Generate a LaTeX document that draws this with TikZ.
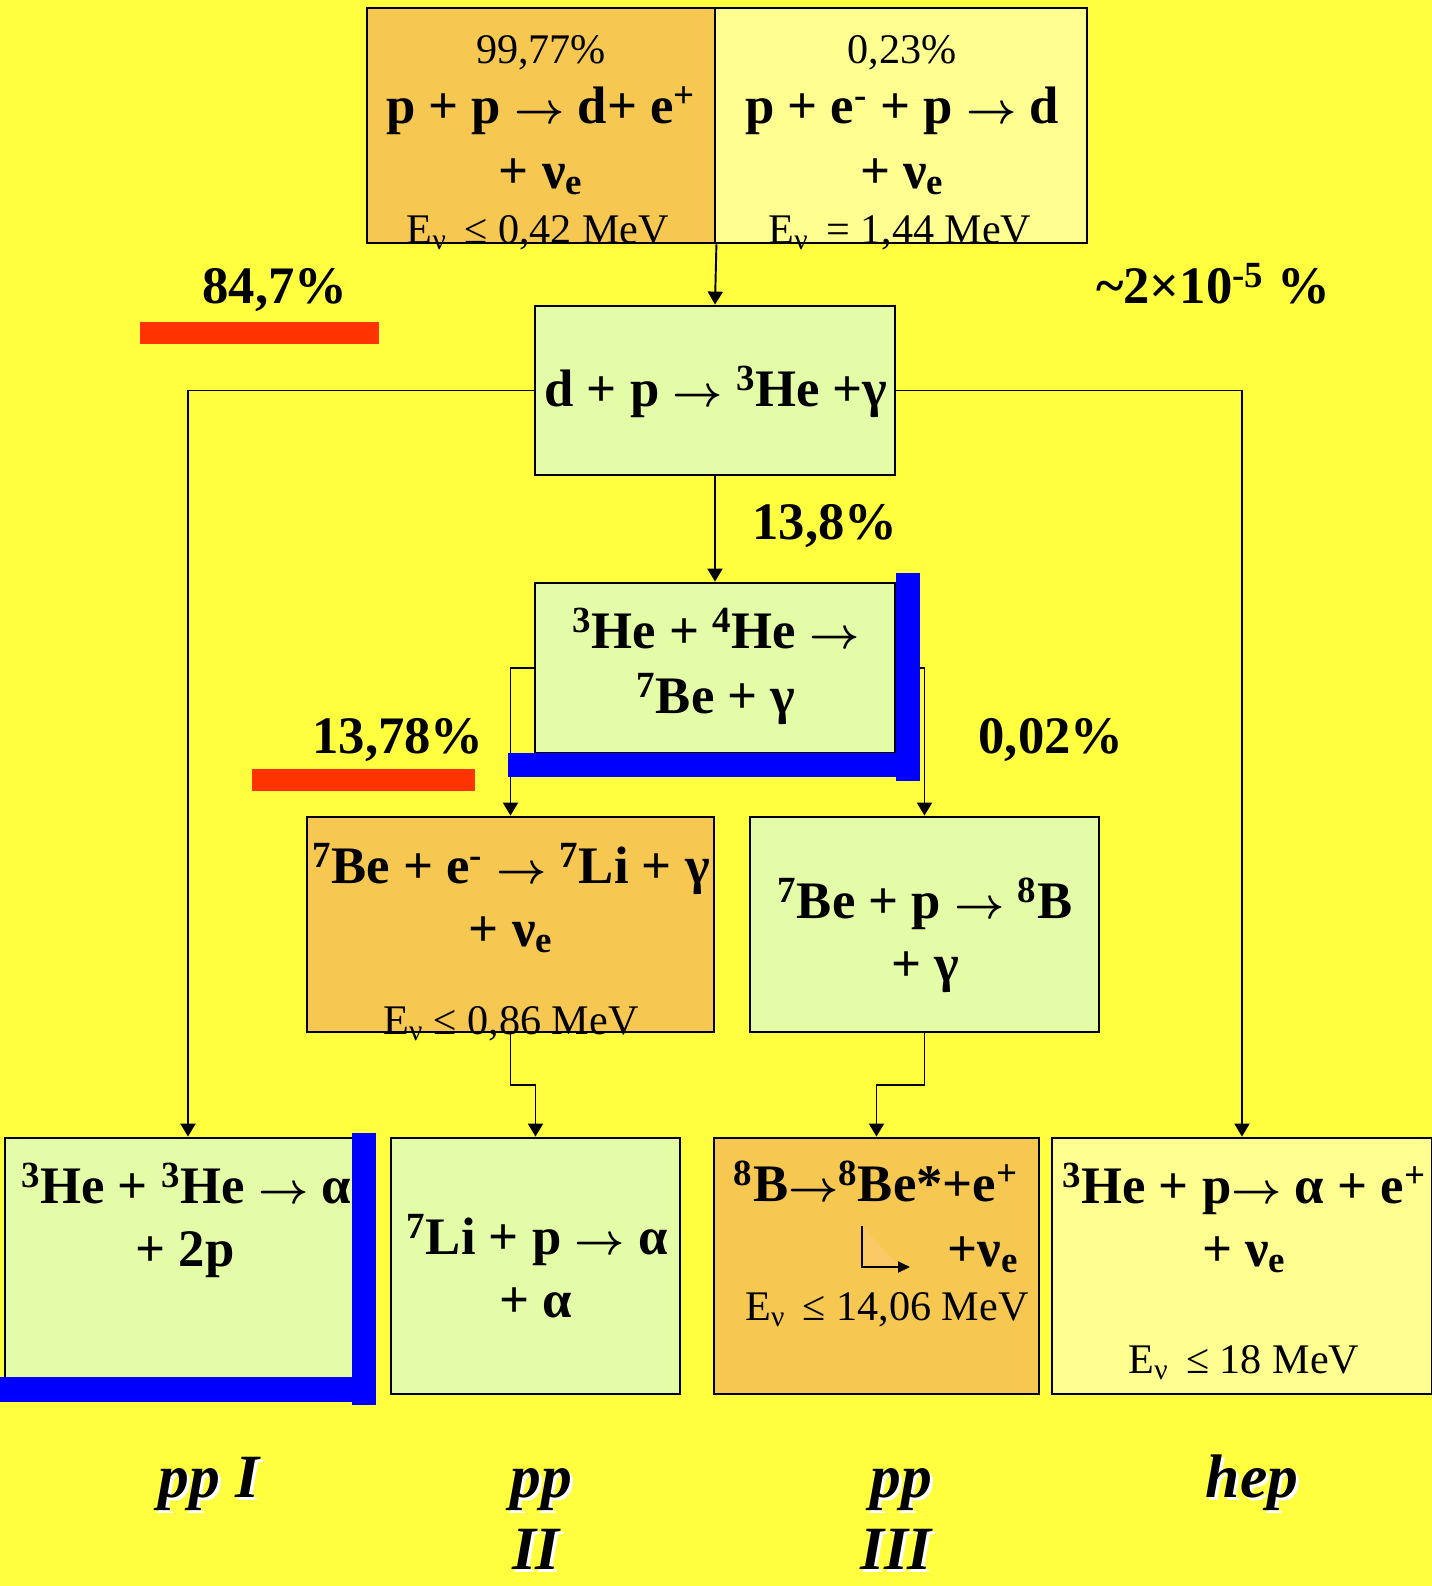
\documentclass[tikz,border=0pt]{standalone}
\usepackage{fontspec}
\setmainfont{Liberation Serif}
\usetikzlibrary{arrows.meta,fit}

\definecolor{bgyellow}{RGB}{255,255,64}
\definecolor{boxorange}{RGB}{246,200,82}
\definecolor{boxcyan}{RGB}{228,252,168}
\definecolor{boxpale}{RGB}{255,255,145}
\definecolor{kinkorange}{RGB}{250,200,100}
\definecolor{barred}{RGB}{255,51,0}
\definecolor{barblue}{RGB}{0,0,255}

\newcommand{\eqsize}{\fontsize{30}{36}\selectfont\bfseries\boldmath}
\newcommand{\ensize}{\fontsize{24}{29}\selectfont}
\newcommand{\cysize}{\fontsize{35}{42}\selectfont\bfseries\itshape}
\newcommand{\yields}{\ensuremath{\rightarrow}}

\begin{document}
\begin{tikzpicture}[x=0.02cm,y=-0.02cm,
    box/.style={draw=black,line width=1.6pt,inner sep=0pt},
    eq/.style={anchor=base,inner sep=0pt,font=\eqsize},
    en/.style={anchor=base,inner sep=0pt,font=\ensize},
    cyc/.style={anchor=base,inner sep=0pt,font=\cysize},
    link/.style={line width=1.1pt,-{Triangle[length=0.26cm,width=0.3cm]}}]

    % background
    \fill[bgyellow] (0,0) rectangle (1432,1586);
    \useasboundingbox (0,0) rectangle (1432,1586);

    % reaction boxes
    \node[box,fill=boxorange,fit={(367,8) (715,243)}] (pp) {};
    \node[box,fill=boxpale,fit={(715,8) (1087,243)}] (pep) {};
    \node[box,fill=boxcyan,fit={(535,306) (895,475)}] (dp) {};
    \node[box,fill=boxcyan,fit={(535,583) (895,753)}] (hhe) {};
    \node[box,fill=boxorange,fit={(307,817) (714,1032)}] (bee) {};
    \node[box,fill=boxcyan,fit={(750,817) (1099,1032)}] (bep) {};
    \node[box,fill=boxcyan,fit={(5,1138) (371,1394)}] (ppI) {};
    \node[box,fill=boxcyan,fit={(391,1138) (680,1394)}] (ppII) {};
    \node[box,fill=boxorange,fit={(714,1138) (1039,1394)}] (ppIII) {};
    \node[box,fill=boxpale,fit={(1052,1138) (1432,1394)}] (hep) {};

    % branches
    \draw[link] (pp.south east) -- (dp.north);
    \draw[link] (dp.west) -| (ppI.north);
    \draw[link] (dp.east) -| (hep.north);
    \draw[link] (dp.south) -- (hhe.north);
    \draw[link] (hhe.west) -| (bee.north);
    \draw[link] (hhe.east) -| (bep.north);
    \draw[link] (bee.south) -- ++(0,52) -| (ppII.north);
    \draw[link] (bep.south) -- ++(0,52) -| (ppIII.north);

    % first step
    \node[en] (ppP) at (541,63) {99,77\%};
    \node[eq] (ppA) at (541,123) {p + p \yields{} d+ e\textsuperscript{+}};
    \node[eq] (ppB) at (541,188) {+ ν\textsubscript{e}};
    \node[en] (ppE) at (538,243) {E\textsubscript{ν} \,≤ 0,42 MeV};
    \node[en] (pepP) at (902,63) {0,23\%};
    \node[eq] (pepA) at (902,123) {p + e\textsuperscript{-} + p \yields{} d};
    \node[eq] (pepB) at (902,188) {+ ν\textsubscript{e}};
    \node[en] (pepE) at (900,243) {E\textsubscript{ν} \,= 1,44 MeV};
    \node[eq] (dpA) at (716,406) {d + p \yields{} \textsuperscript{3}He +γ};

    % branching ratios
    \node[eq] (f847) at (275,303) {84,7\%};
    \node[eq] (fhep) at (1213,303) {\textasciitilde2×10\textsuperscript{-5} \%};
    \node[eq] (f138) at (825,539) {13,8\%};
    \node[eq] (f1378) at (398,753) {13,78\%};
    \node[eq] (f002) at (1051,753) {0,02\%};

    % beryllium
    \node[eq] (hheA) at (716,648) {\textsuperscript{3}He + \textsuperscript{4}He \yields};
    \node[eq] (hheB) at (716,713) {\textsuperscript{7}Be + γ};
    \node[eq] (beeA) at (511,883) {\textsuperscript{7}Be + e\textsuperscript{-} \yields{} \textsuperscript{7}Li + γ};
    \node[eq] (beeB) at (511,946) {+ ν\textsubscript{e}};
    \node[en] (beeE) at (511,1034) {E\textsubscript{ν} ≤ 0,86 MeV};
    \node[eq] (bepA) at (925,918) {\textsuperscript{7}Be + p \yields{} \textsuperscript{8}B};
    \node[eq] (bepB) at (925,981) {+ γ};

    % end reactions
    \node[eq] (ppIA) at (186,1203) {\textsuperscript{3}He + \textsuperscript{3}He \yields{} α};
    \node[eq] (ppIB) at (185,1266) {+ 2p};
    \node[eq] (ppIIA) at (537,1254) {\textsuperscript{7}Li + p \yields{} α};
    \node[eq] (ppIIB) at (536,1317) {+ α};
    \node[eq] (ppIIIA) at (876,1201) {\textsuperscript{8}B\yields\textsuperscript{8}Be*+e\textsuperscript{+}};
    \node[eq] (ppIIIB) at (983,1266) {+ν\textsubscript{e}};
    \node[en] (ppIIIE) at (887,1320) {E\textsubscript{ν} \,≤ 14,06 MeV};
    \node[eq] (hepA) at (1244,1203) {\textsuperscript{3}He + p\yields{} α + e\textsuperscript{+}};
    \node[eq] (hepB) at (1244,1266) {+ ν\textsubscript{e}};
    \node[en] (hepE) at (1244,1373) {E\textsubscript{ν} \,≤ 18 MeV};

    % decay kink
    \coordinate (kt) at (862,1226);
    \coordinate (kc) at (862,1267);
    \coordinate (kd) at (900,1267);
    \coordinate (kh) at (910,1267);
    \fill[kinkorange] (kt) -- (kc) -- (kd) -- cycle;
    \draw[line width=1.1pt,-{Triangle[length=0.24cm,width=0.22cm]}] (kt) -- (kc) -- (kh);

    % red and blue bars
    \fill[barred] (140,322) rectangle (379,344);
    \fill[barred] (252,769) rectangle (475,791);
    \fill[barblue] (508,753) rectangle (920,777);
    \fill[barblue] (896,573) rectangle (920,781);
    \fill[barblue] (0,1377) rectangle (376,1402);
    \fill[barblue] (352,1133) rectangle (376,1405);

    % cycle names
    \node[cyc,white] (lppIs) at (212,1500) {pp I};
    \node[cyc] (lppI) at (209,1497) {pp I};
    \node[cyc,white] (lppIIs) at (544,1500) {pp};
    \node[cyc] (lppII) at (541,1497) {pp};
    \node[cyc,white] (nIIs) at (539,1572) {II};
    \node[cyc] (nII) at (536,1569) {II};
    \node[cyc,white] (lppIIIs) at (904,1500) {pp};
    \node[cyc] (lppIII) at (901,1497) {pp};
    \node[cyc,white] (nIIIs) at (899,1572) {III};
    \node[cyc] (nIII) at (896,1569) {III};
    \node[cyc,white] (lheps) at (1255,1500) {hep};
    \node[cyc] (lhep) at (1252,1497) {hep};
\end{tikzpicture}
\end{document}
